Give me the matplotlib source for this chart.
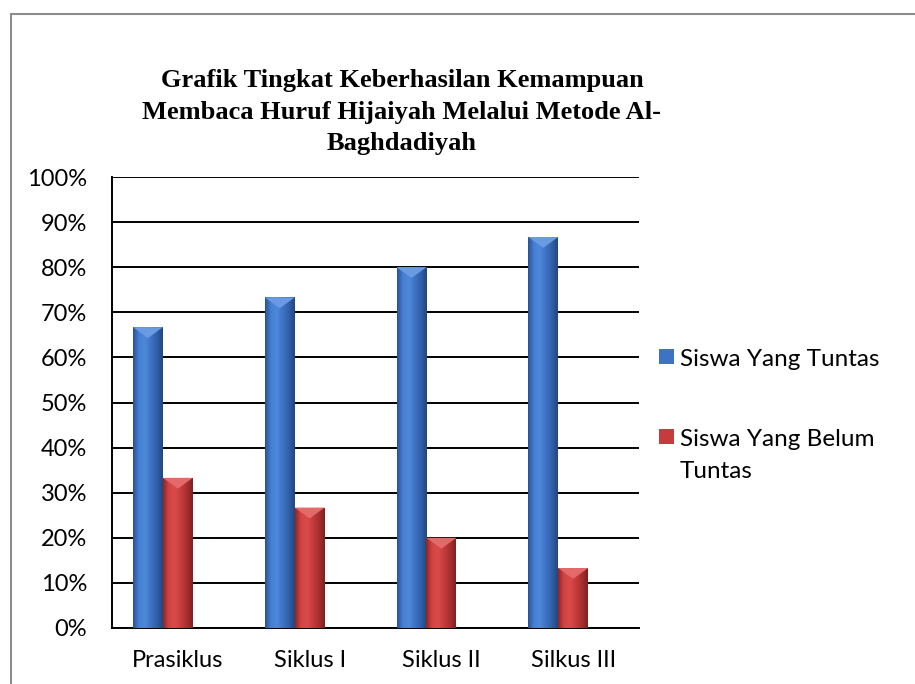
import numpy as np
import matplotlib
matplotlib.use('Agg')
import matplotlib.pyplot as plt
from matplotlib.colors import LinearSegmentedColormap
from matplotlib.patches import Rectangle, Polygon

categories = ['Prasiklus', 'Siklus I', 'Siklus II', 'Silkus III']
tuntas = [66.7, 73.3, 80.0, 86.7]
belum = [33.3, 26.7, 20.0, 13.3]
series_names = ['Siswa Yang Tuntas', 'Siswa Yang Belum\nTuntas']
yticks = [0, 10, 20, 30, 40, 50, 60, 70, 80, 90, 100]
title = 'Grafik Tingkat Keberhasilan Kemampuan\nMembaca Huruf Hijaiyah Melalui Metode Al-\nBaghdadiyah'

W, H = 915, 684
tick_font = 'Lato'

blue_map = LinearSegmentedColormap.from_list('b', ['#2a4f92', '#4580d4', '#4e88da', '#3e72c4', '#3060a6', '#24467f'])
red_map = LinearSegmentedColormap.from_list('r', ['#8e2424', '#d24444', '#da4a4a', '#c63c3c', '#a83030', '#7e2020'])
blue_cap = '#6a9be2'
red_cap = '#e46a6a'

fig = plt.figure(figsize=(W / 100, H / 100), dpi=100)
ax = fig.add_axes([112 / W, 1 - 628 / H, (639 - 112) / W, (628 - 177) / H])

x = np.arange(len(categories))
bw = 0.227
grad = np.linspace(0, 1, 256).reshape(1, -1)

def draw_bars(xpos, vals, cmap, capcol):
    bars = ax.bar(xpos, vals, width=bw, color='none', edgecolor='none', zorder=3)
    for b in bars:
        x0, w, h = b.get_x(), b.get_width(), b.get_height()
        im = ax.imshow(grad, cmap=cmap, extent=(x0, x0 + w, 0, h), aspect='auto',
                       interpolation='bicubic', zorder=3)
        im.set_clip_path(b)
        d = 2.4
        ax.add_patch(Polygon([(x0, h), (x0 + w, h), (x0 + w * 0.5, h - d)],
                             closed=True, facecolor=capcol, edgecolor='none', zorder=4))
    return bars

draw_bars(x - bw, tuntas, blue_map, blue_cap)
draw_bars(x, belum, red_map, red_cap)

ax.set_xlim(-0.5, len(categories) - 0.5)
ax.set_ylim(0, 100)
ax.set_yticks(yticks)
ax.set_yticklabels([f'{v}%' for v in yticks], fontfamily=tick_font, fontsize=17)
ax.set_xticks(x)
ax.set_xticklabels(categories, fontfamily=tick_font, fontsize=17)
ax.tick_params(axis='y', length=0, pad=18)
ax.tick_params(axis='x', length=0, pad=16)
ax.yaxis.grid(True, color='black', lw=1.4)
ax.set_axisbelow(True)
for s in ['top', 'right']:
    ax.spines[s].set_visible(False)
for s in ['left', 'bottom']:
    ax.spines[s].set_linewidth(1.4)
    ax.spines[s].set_color('black')

# title
fig.text(402 / W, 1 - 112 / H, title, ha='center', va='center',
         fontfamily='Liberation Serif', fontweight='bold', fontsize=19, linespacing=1.45)

# legend
for i, (name, col) in enumerate(zip(series_names, ['#3e72c4', '#c63c3c'])):
    cy = 356 + i * 80
    fig.add_artist(Rectangle((659 / W, 1 - (cy + 7.5) / H), 15 / W, 15 / H,
                             transform=fig.transFigure, facecolor=col, edgecolor='none'))
    for k, line in enumerate(name.split('\n')):
        fig.text(680 / W, 1 - (cy + 10 + 32 * k) / H, line, ha='left', va='baseline',
                 fontfamily=tick_font, fontsize=17.5)

# outer frame
fig.add_artist(Rectangle((10.5 / W, -0.05), 1.0, (H - 13.5) / H + 0.05,
                         transform=fig.transFigure, fill=False, edgecolor='#8c8c8c', lw=1.5))

fig.savefig('out.png', dpi=100)
